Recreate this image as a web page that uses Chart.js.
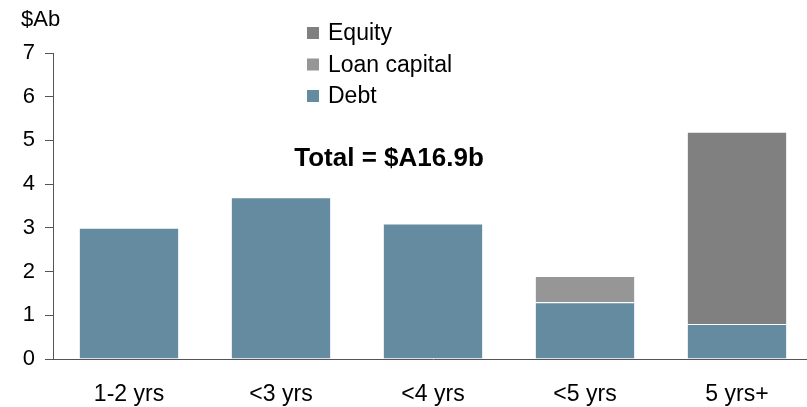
<!DOCTYPE html>
<html>
<head>
<meta charset="utf-8">
<script src="https://cdn.jsdelivr.net/npm/chart.js@4"></script>
<style>
html,body{margin:0;padding:0;background:#fff;overflow:hidden;}
#wrap{width:813px;height:407px;position:relative;}
</style>
</head>
<body>
<div id="wrap"><canvas id="c"></canvas></div>
<script>
const categories = ['1-2 yrs', '<3 yrs', '<4 yrs', '<5 yrs', '5 yrs+'];
const debt = [3.0, 3.7, 3.1, 1.3, 0.8];
const loanCapital = [0, 0, 0, 0.6, 0];
const equity = [0, 0, 0, 0, 4.4];
const yTicks = [0, 1, 2, 3, 4, 5, 6, 7];
const unitLabel = '$Ab';
const totalLabel = 'Total = $A16.9b';

const FONT = '"Liberation Sans", Arial, sans-serif';

const extras = {
  id: 'extras',
  afterDraw(chart) {
    const ctx = chart.ctx;
    ctx.save();
    ctx.fillStyle = '#000';
    ctx.textBaseline = 'middle';
    ctx.font = '22px ' + FONT;
    ctx.textAlign = 'left';
    ctx.fillText(unitLabel, 21, 20);
    ctx.font = 'bold 26px ' + FONT;
    ctx.textAlign = 'center';
    ctx.fillText(totalLabel, 389, 159);
    // legend (reverse of stacking order)
    const ds = chart.data.datasets.slice().reverse();
    ctx.font = '23px ' + FONT;
    ctx.textAlign = 'left';
    ds.forEach((d, i) => {
      const y = 33 + i * 31.5;
      ctx.fillStyle = d.backgroundColor;
      ctx.fillRect(307, y - 6, 12, 12);
      ctx.fillStyle = '#000';
      ctx.fillText(d.label, 328, y + 1);
    });
    ctx.restore();
  }
};

new Chart(document.getElementById('c'), {
  type: 'bar',
  data: {
    labels: categories,
    datasets: [
      { label: 'Debt', data: debt, backgroundColor: '#648ba0', borderColor: '#ffffff', borderWidth: 1, borderSkipped: 'start' },
      { label: 'Loan capital', data: loanCapital, backgroundColor: '#969696', borderColor: '#ffffff', borderWidth: 1, borderSkipped: 'start' },
      { label: 'Equity', data: equity, backgroundColor: '#808080', borderColor: '#ffffff', borderWidth: 1, borderSkipped: 'start' }
    ]
  },
  options: {
    responsive: true,
    maintainAspectRatio: false,
    animation: false,
    layout: { padding: { top: 53, left: 22, right: 0, bottom: 0 } },
    plugins: { legend: { display: false }, tooltip: { enabled: false }, title: { display: false } },
    datasets: { bar: { categoryPercentage: 1.0, barPercentage: 0.66 } },
    scales: {
      x: {
        stacked: true,
        afterFit(scale) { scale.height = 48; },
        grid: { display: true, drawOnChartArea: false, drawTicks: false },
        border: { display: true, color: '#555', width: 1 },
        ticks: { color: '#000', font: { family: FONT, size: 23 }, padding: 22, maxRotation: 0 }
      },
      y: {
        stacked: true,
        min: 0,
        max: 7,
        afterFit(scale) { scale.width = 31; },
        afterBuildTicks(scale) { scale.ticks = yTicks.map(v => ({ value: v })); },
        grid: { display: true, drawOnChartArea: false, drawTicks: true, tickLength: 8, color: '#555' },
        border: { display: true, color: '#555', width: 1 },
        ticks: { color: '#000', font: { family: FONT, size: 22 }, padding: 10 }
      }
    }
  },
  plugins: [extras]
});
</script>
</body>
</html>
